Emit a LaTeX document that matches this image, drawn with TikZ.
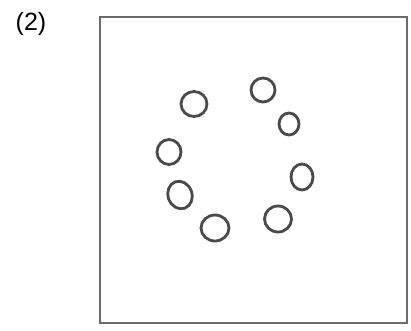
\documentclass[tikz,border=0pt]{standalone}
\usepackage{fontspec}
\setmainfont{Liberation Sans}
\usetikzlibrary{shapes.geometric}
\definecolor{pencil}{HTML}{4A4A48}
\definecolor{framegrey}{HTML}{6E6A6C}
\tikzset{
  cell/.style={ellipse, draw=pencil, line width=2.8pt, inner sep=0pt},
  frame/.style={rectangle, draw=framegrey, line width=2.4pt, inner sep=0pt},
  tag/.style={font=\fontsize{25}{28}\selectfont, inner sep=0pt},
}
\begin{document}
\begin{tikzpicture}[x=1pt, y=-1pt]
  \useasboundingbox (0,0) rectangle (411,330);
  % panel label and outline
  \node[tag] (lbl) at (31,24) {(2)};
  \node[frame, minimum width=307pt, minimum height=306pt] (box) at (253.5,170) {};
  % ring of cells
  \node[cell, minimum width=26pt, minimum height=25pt] (c1) at (194,104) {};
  \node[cell, minimum width=24pt, minimum height=24pt] (c2) at (263,90) {};
  \node[cell, minimum width=20pt, minimum height=22pt] (c3) at (289,124) {};
  \node[cell, minimum width=22pt, minimum height=26pt] (c4) at (302,177) {};
  \node[cell, minimum width=27pt, minimum height=26pt] (c5) at (278,219) {};
  \node[cell, minimum width=28pt, minimum height=26pt] (c6) at (215,228) {};
  \node[cell, minimum width=24pt, minimum height=28pt, rotate=20] (c7) at (180,195) {};
  \node[cell, minimum width=24pt, minimum height=25pt] (c8) at (169,152) {};
\end{tikzpicture}
\end{document}
